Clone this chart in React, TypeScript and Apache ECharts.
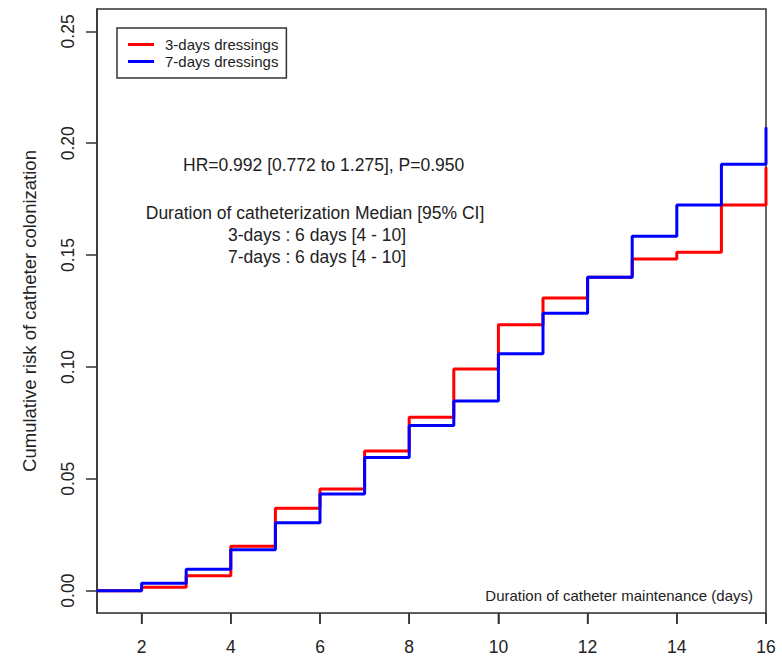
import React, { useEffect, useRef } from "react";
import * as echarts from "echarts";

const days = [1, 2, 3, 4, 5, 6, 7, 8, 9, 10, 11, 12, 13, 14, 15, 16];
const risk3Days = [0, 0.0015, 0.0066, 0.0198, 0.0368, 0.0454, 0.0624, 0.0775, 0.0991, 0.1189, 0.1308, 0.1401, 0.1483, 0.1513, 0.1724, 0.1893];
const risk7Days = [0, 0.0033, 0.0096, 0.0183, 0.0303, 0.0432, 0.0595, 0.0738, 0.0848, 0.1059, 0.124, 0.1401, 0.1584, 0.1724, 0.1906, 0.2071];
const xTicks = [2, 4, 6, 8, 10, 12, 14, 16];
const yTicks = [0, 0.05, 0.1, 0.15, 0.2, 0.25];
const seriesNames = ["3-days dressings", "7-days dressings"];
const annotationLines = [
  "HR=0.992 [0.772 to 1.275], P=0.950",
  "Duration of catheterization Median [95% CI]",
  "3-days : 6 days [4 - 10]",
  "7-days : 6 days [4 - 10]",
];
const xTitle = "Duration of catheter maintenance (days)";
const yTitle = "Cumulative risk of catheter colonization";

const Y_MIN = -0.01;
const Y_MAX = 0.26;
const FONT = "'Liberation Sans', Arial, sans-serif";
const TEXT = "#222";
const AXIS = "#333";

export default function App() {
  const ref = useRef<HTMLDivElement>(null);
  useEffect(() => {
    document.body.style.margin = "0";
    if (!ref.current) return;
    const chart = echarts.init(ref.current, null, { renderer: "svg" });
    const toPairs = (vals: number[]) => days.map((d, i) => [d, vals[i]]);
    const textGraphics: any[] = [
      {
        type: "text",
        left: 183,
        top: 156,
        style: { text: annotationLines[0], font: `17.5px ${FONT}`, fill: TEXT },
      },
      {
        type: "text",
        x: 315,
        y: 213,
        style: { text: annotationLines[1], font: `17.5px ${FONT}`, fill: TEXT, align: "center", verticalAlign: "middle" },
      },
      {
        type: "text",
        x: 317,
        y: 235,
        style: { text: annotationLines[2], font: `17.5px ${FONT}`, fill: TEXT, align: "center", verticalAlign: "middle" },
      },
      {
        type: "text",
        x: 317,
        y: 257,
        style: { text: annotationLines[3], font: `17.5px ${FONT}`, fill: TEXT, align: "center", verticalAlign: "middle" },
      },
      {
        type: "text",
        x: 753,
        y: 595,
        style: { text: xTitle, font: `15px ${FONT}`, fill: TEXT, align: "right", verticalAlign: "middle" },
      },
    ];
    chart.setOption({
      animation: false,
      grid: {
        left: 97,
        right: 16,
        top: 9,
        bottom: 42,
        show: true,
        borderColor: AXIS,
        borderWidth: 1.5,
      },
      legend: {
        orient: "vertical",
        left: 117,
        top: 28,
        data: seriesNames,
        icon: "rect",
        itemWidth: 26,
        itemHeight: 3,
        itemGap: 2,
        padding: [9, 8, 9, 11],
        borderColor: AXIS,
        borderWidth: 1.5,
        borderRadius: 0,
        textStyle: {
          fontFamily: FONT,
          fontSize: 15,
          color: TEXT,
          lineHeight: 15,
          padding: [0, 0, 0, 6],
        },
      },
      xAxis: {
        type: "value",
        min: 1,
        max: 16,
        axisLine: { show: true, onZero: false },
        splitLine: { show: false },
        axisTick: {
          show: true,
          length: 11,
          customValues: xTicks,
          lineStyle: { color: AXIS, width: 1.5 },
        },
        axisLabel: {
          customValues: xTicks,
          fontFamily: FONT,
          fontSize: 17.5,
          color: TEXT,
          margin: 25,
        },
      },
      yAxis: {
        type: "value",
        min: Y_MIN,
        max: Y_MAX,
        axisLine: { show: true, onZero: false, lineStyle: { color: AXIS, width: 1.5 } },
        splitLine: { show: false },
        axisTick: {
          show: true,
          length: 11,
          customValues: yTicks,
          lineStyle: { color: AXIS, width: 1.5 },
        },
        axisLabel: {
          customValues: yTicks,
          rotate: 90,
          fontFamily: FONT,
          fontSize: 17.5,
          color: TEXT,
          margin: 20,
          formatter: (v: number) => v.toFixed(2),
        },
        name: yTitle,
        nameLocation: "middle",
        nameRotate: 90,
        nameGap: 58,
        nameTextStyle: { fontFamily: FONT, fontSize: 18.5, color: TEXT },
      },
      series: [
        {
          name: seriesNames[0],
          type: "line",
          step: "end",
          data: toPairs(risk3Days),
          showSymbol: false,
          symbol: "none",
          clip: false,
          color: "#ff0000",
          lineStyle: { color: "#ff0000", width: 3 },
          z: 2,
        },
        {
          name: seriesNames[1],
          type: "line",
          step: "end",
          data: toPairs(risk7Days),
          showSymbol: false,
          symbol: "none",
          clip: false,
          color: "#0000ff",
          lineStyle: { color: "#0000ff", width: 3 },
          z: 3,
        },
      ],
      graphic: { elements: textGraphics },
    });

    // x-axis tick marks placed through the chart's own scale
    const tickGraphics = xTicks.map((v) => {
      const p = chart.convertToPixel({ gridIndex: 0 }, [v, Y_MIN]) as number[];
      return {
        type: "line",
        z: 100,
        silent: true,
        shape: { x1: p[0], y1: p[1], x2: p[0], y2: p[1] + 11 },
        style: { stroke: AXIS, lineWidth: 1.5 },
      };
    });
    chart.setOption({ graphic: { elements: [...textGraphics, ...tickGraphics] } });

    return () => chart.dispose();
  }, []);
  return <div ref={ref} style={{ width: 782, height: 656 }} />;
}
